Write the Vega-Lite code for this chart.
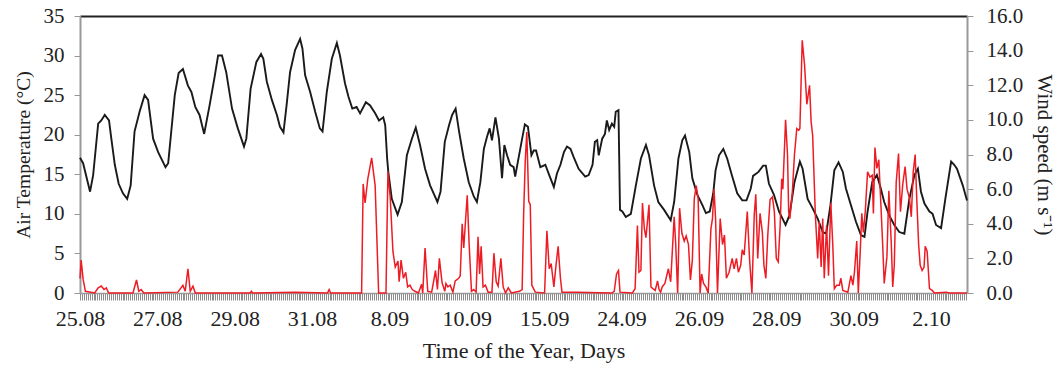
{
"$schema": "https://vega.github.io/schema/vega-lite/v6.json",
"width": 887, "height": 277,
"autosize": {"type": "none"},
"padding": {"left": 80, "top": 16, "right": 91, "bottom": 74},
"background": "white",
"config": {"view": {"stroke": null}, "font": "Liberation Serif",
  "axis": {"labelFont": "Liberation Serif", "titleFont": "Liberation Serif", "labelColor": "#222", "titleColor": "#222", "titleFontWeight": "normal", "grid": false}},
"datasets": {
"temp": [
{"d":0,"t":17.1},{"d":0.08,"t":16.4},{"d":0.26,"t":12.8},{"d":0.34,"t":14.9},{"d":0.47,"t":21.4},{"d":0.55,"t":21.8},{"d":0.64,"t":22.5},{"d":0.75,"t":21.8},{"d":0.81,"t":19.5},{"d":0.90,"t":16.2},{"d":1.00,"t":13.8},{"d":1.11,"t":12.6},{"d":1.22,"t":11.9},{"d":1.31,"t":13.6},{"d":1.41,"t":20.4},{"d":1.54,"t":22.9},{"d":1.67,"t":25.0},{"d":1.76,"t":24.4},{"d":1.89,"t":19.5},{"d":2.02,"t":17.8},{"d":2.21,"t":15.9},{"d":2.28,"t":16.4},{"d":2.45,"t":25.0},{"d":2.55,"t":27.8},{"d":2.66,"t":28.3},{"d":2.79,"t":26.2},{"d":2.88,"t":25.4},{"d":2.98,"t":23.5},{"d":3.09,"t":22.5},{"d":3.21,"t":20.1},{"d":3.35,"t":23.7},{"d":3.48,"t":27.3},{"d":3.57,"t":30.0},{"d":3.67,"t":30.0},{"d":3.78,"t":27.9},{"d":3.93,"t":23.3},{"d":4.08,"t":20.8},{"d":4.24,"t":18.5},{"d":4.30,"t":19.5},{"d":4.41,"t":25.8},{"d":4.56,"t":29.2},{"d":4.68,"t":30.2},{"d":4.74,"t":29.6},{"d":4.83,"t":26.7},{"d":4.96,"t":24.4},{"d":5.09,"t":22.5},{"d":5.17,"t":21.0},{"d":5.26,"t":20.3},{"d":5.34,"t":23.7},{"d":5.43,"t":27.9},{"d":5.56,"t":30.7},{"d":5.69,"t":32.1},{"d":5.75,"t":30.9},{"d":5.82,"t":27.5},{"d":5.95,"t":25.4},{"d":6.08,"t":22.9},{"d":6.20,"t":20.8},{"d":6.27,"t":20.4},{"d":6.38,"t":25.4},{"d":6.51,"t":29.6},{"d":6.64,"t":31.6},{"d":6.72,"t":30.0},{"d":6.85,"t":26.5},{"d":6.94,"t":24.8},{"d":7.04,"t":23.3},{"d":7.15,"t":23.5},{"d":7.24,"t":22.7},{"d":7.39,"t":24.1},{"d":7.50,"t":23.7},{"d":7.63,"t":22.7},{"d":7.73,"t":21.8},{"d":7.84,"t":22.2},{"d":7.89,"t":21.2},{"d":7.94,"t":17.0},{"d":7.97,"t":15.3},{"d":8.06,"t":11.9},{"d":8.21,"t":9.9},{"d":8.32,"t":11.5},{"d":8.45,"t":17.4},{"d":8.58,"t":19.5},{"d":8.68,"t":20.9},{"d":8.79,"t":18.7},{"d":8.92,"t":15.7},{"d":9.05,"t":13.6},{"d":9.24,"t":11.5},{"d":9.32,"t":12.8},{"d":9.43,"t":19.1},{"d":9.54,"t":21.2},{"d":9.62,"t":22.5},{"d":9.71,"t":23.3},{"d":9.80,"t":20.4},{"d":9.92,"t":17.0},{"d":10.05,"t":14.0},{"d":10.18,"t":12.2},{"d":10.26,"t":11.5},{"d":10.35,"t":14.0},{"d":10.44,"t":18.2},{"d":10.52,"t":19.7},{"d":10.59,"t":20.8},{"d":10.65,"t":19.3},{"d":10.74,"t":22.2},{"d":10.83,"t":19.5},{"d":10.91,"t":14.5},{"d":10.97,"t":18.7},{"d":11.04,"t":17.4},{"d":11.12,"t":16.2},{"d":11.21,"t":15.9},{"d":11.25,"t":14.7},{"d":11.32,"t":16.6},{"d":11.43,"t":19.5},{"d":11.50,"t":21.3},{"d":11.58,"t":21.0},{"d":11.67,"t":17.4},{"d":11.73,"t":18.0},{"d":11.79,"t":18.0},{"d":11.90,"t":15.9},{"d":12.03,"t":16.2},{"d":12.13,"t":14.9},{"d":12.25,"t":13.4},{"d":12.33,"t":15.1},{"d":12.42,"t":16.2},{"d":12.51,"t":17.8},{"d":12.59,"t":18.5},{"d":12.68,"t":18.2},{"d":12.76,"t":17.2},{"d":12.89,"t":15.7},{"d":13.06,"t":14.7},{"d":13.15,"t":14.9},{"d":13.25,"t":16.2},{"d":13.31,"t":19.1},{"d":13.37,"t":19.3},{"d":13.41,"t":17.4},{"d":13.50,"t":19.5},{"d":13.57,"t":20.1},{"d":13.62,"t":21.8},{"d":13.68,"t":20.6},{"d":13.75,"t":21.4},{"d":13.81,"t":21.0},{"d":13.85,"t":22.9},{"d":13.92,"t":23.1},{"d":13.96,"t":10.5},{"d":14.02,"t":10.3},{"d":14.11,"t":9.6},{"d":14.24,"t":10.0},{"d":14.37,"t":13.6},{"d":14.50,"t":17.0},{"d":14.63,"t":18.7},{"d":14.71,"t":17.4},{"d":14.84,"t":13.6},{"d":14.95,"t":11.5},{"d":15.10,"t":10.5},{"d":15.27,"t":9.2},{"d":15.36,"t":11.5},{"d":15.47,"t":17.0},{"d":15.57,"t":19.3},{"d":15.64,"t":19.9},{"d":15.75,"t":17.8},{"d":15.83,"t":14.5},{"d":15.96,"t":12.4},{"d":16.09,"t":11.1},{"d":16.18,"t":10.1},{"d":16.28,"t":10.3},{"d":16.37,"t":12.6},{"d":16.43,"t":15.5},{"d":16.52,"t":17.4},{"d":16.63,"t":18.2},{"d":16.73,"t":17.0},{"d":16.85,"t":14.9},{"d":16.99,"t":12.6},{"d":17.12,"t":11.7},{"d":17.23,"t":11.7},{"d":17.34,"t":13.2},{"d":17.40,"t":14.8},{"d":17.54,"t":15.3},{"d":17.66,"t":16.1},{"d":17.73,"t":16.1},{"d":17.81,"t":13.8},{"d":17.94,"t":12.4},{"d":18.07,"t":10.3},{"d":18.24,"t":8.6},{"d":18.34,"t":9.8},{"d":18.47,"t":14.0},{"d":18.61,"t":16.6},{"d":18.68,"t":15.7},{"d":18.81,"t":11.9},{"d":18.94,"t":10.7},{"d":19.07,"t":9.4},{"d":19.20,"t":7.7},{"d":19.29,"t":7.5},{"d":19.40,"t":11.1},{"d":19.50,"t":15.5},{"d":19.61,"t":16.5},{"d":19.72,"t":15.3},{"d":19.80,"t":13.2},{"d":19.93,"t":11.1},{"d":20.06,"t":9.0},{"d":20.19,"t":7.3},{"d":20.28,"t":7.1},{"d":20.36,"t":10.3},{"d":20.48,"t":14.0},{"d":20.60,"t":14.9},{"d":20.68,"t":13.6},{"d":20.79,"t":11.5},{"d":20.92,"t":9.8},{"d":21.05,"t":8.6},{"d":21.18,"t":7.7},{"d":21.31,"t":7.5},{"d":21.44,"t":11.9},{"d":21.57,"t":14.9},{"d":21.66,"t":15.7},{"d":21.74,"t":12.8},{"d":21.83,"t":11.3},{"d":21.96,"t":10.3},{"d":22.04,"t":10.0},{"d":22.13,"t":8.6},{"d":22.26,"t":8.2},{"d":22.37,"t":11.9},{"d":22.52,"t":16.6},{"d":22.60,"t":16.2},{"d":22.67,"t":15.7},{"d":22.82,"t":13.6},{"d":22.93,"t":11.7}
],
"wind": [
{"d":0,"w":0.84},{"d":0.03,"w":1.9},{"d":0.08,"w":0.8},{"d":0.14,"w":0.1},{"d":0.38,"w":0},{"d":0.47,"w":0.3},{"d":0.55,"w":0.4},{"d":0.62,"w":0.2},{"d":0.68,"w":0.3},{"d":0.74,"w":0},{"d":1.37,"w":0},{"d":1.46,"w":0.75},{"d":1.52,"w":0.1},{"d":1.58,"w":0.2},{"d":1.65,"w":0},{"d":2.53,"w":0.05},{"d":2.66,"w":0.45},{"d":2.72,"w":0.1},{"d":2.79,"w":1.4},{"d":2.85,"w":0.1},{"d":2.92,"w":0.4},{"d":2.98,"w":0},{"d":4.40,"w":0},{"d":4.43,"w":0.1},{"d":4.46,"w":0},{"d":5.56,"w":0.05},{"d":6.40,"w":0},{"d":6.44,"w":0.2},{"d":6.48,"w":0},{"d":7.28,"w":0},{"d":7.32,"w":6.3},{"d":7.37,"w":5.2},{"d":7.44,"w":6.6},{"d":7.54,"w":7.8},{"d":7.63,"w":6.2},{"d":7.72,"w":0},{"d":7.91,"w":0},{"d":7.96,"w":7.0},{"d":8.02,"w":5.5},{"d":8.09,"w":2.4},{"d":8.15,"w":1.5},{"d":8.22,"w":1.85},{"d":8.25,"w":0.65},{"d":8.30,"w":1.9},{"d":8.36,"w":0.85},{"d":8.42,"w":1.2},{"d":8.47,"w":0.35},{"d":8.53,"w":0.45},{"d":8.59,"w":0.2},{"d":8.66,"w":0.1},{"d":8.75,"w":0},{"d":8.83,"w":0.5},{"d":8.86,"w":0},{"d":8.92,"w":2.6},{"d":8.99,"w":0.1},{"d":9.09,"w":0.05},{"d":9.14,"w":0.65},{"d":9.19,"w":1.3},{"d":9.24,"w":0.2},{"d":9.29,"w":2.0},{"d":9.36,"w":0.6},{"d":9.43,"w":0.1},{"d":9.46,"w":0.55},{"d":9.51,"w":0.35},{"d":9.57,"w":0.45},{"d":9.64,"w":0.05},{"d":9.70,"w":0.7},{"d":9.79,"w":0.85},{"d":9.83,"w":1.0},{"d":9.88,"w":4.0},{"d":9.92,"w":2.6},{"d":10.01,"w":5.65},{"d":10.06,"w":2.8},{"d":10.12,"w":0.1},{"d":10.18,"w":0.2},{"d":10.24,"w":0.05},{"d":10.29,"w":3.25},{"d":10.33,"w":1.1},{"d":10.37,"w":2.7},{"d":10.42,"w":0.35},{"d":10.48,"w":0.45},{"d":10.55,"w":0.05},{"d":10.65,"w":0.05},{"d":10.70,"w":2.3},{"d":10.76,"w":0.65},{"d":10.81,"w":0.4},{"d":10.88,"w":2.0},{"d":10.94,"w":0.35},{"d":11.00,"w":0},{"d":11.07,"w":0.3},{"d":11.15,"w":0},{"d":11.36,"w":0.1},{"d":11.43,"w":0.2},{"d":11.47,"w":4.7},{"d":11.51,"w":7.6},{"d":11.55,"w":9.3},{"d":11.60,"w":5.3},{"d":11.64,"w":5.1},{"d":11.68,"w":0.45},{"d":11.77,"w":0.05},{"d":12.01,"w":0},{"d":12.07,"w":3.6},{"d":12.13,"w":1.4},{"d":12.18,"w":1.7},{"d":12.25,"w":0.35},{"d":12.31,"w":1.7},{"d":12.36,"w":2.7},{"d":12.42,"w":0.85},{"d":12.46,"w":0.05},{"d":12.85,"w":0.05},{"d":13.75,"w":0},{"d":13.81,"w":0.1},{"d":13.87,"w":1.1},{"d":13.92,"w":1.3},{"d":13.96,"w":0.05},{"d":14.28,"w":0},{"d":14.35,"w":0.25},{"d":14.41,"w":3.9},{"d":14.45,"w":1.2},{"d":14.50,"w":1.3},{"d":14.54,"w":5.2},{"d":14.59,"w":3.7},{"d":14.63,"w":3.2},{"d":14.71,"w":5.1},{"d":14.76,"w":0.35},{"d":14.81,"w":0.25},{"d":14.87,"w":0.15},{"d":14.93,"w":0.7},{"d":14.97,"w":0.2},{"d":15.01,"w":0.05},{"d":15.05,"w":0.35},{"d":15.12,"w":0.55},{"d":15.21,"w":1.4},{"d":15.27,"w":0.65},{"d":15.36,"w":4.4},{"d":15.40,"w":2.8},{"d":15.45,"w":0},{"d":15.50,"w":4.9},{"d":15.56,"w":3.45},{"d":15.62,"w":3.0},{"d":15.67,"w":3.3},{"d":15.73,"w":2.8},{"d":15.78,"w":0.75},{"d":15.83,"w":1.9},{"d":15.88,"w":5.45},{"d":15.93,"w":6.2},{"d":15.98,"w":5.45},{"d":16.03,"w":0},{"d":16.07,"w":1.1},{"d":16.12,"w":0.55},{"d":16.18,"w":0.35},{"d":16.24,"w":0},{"d":16.31,"w":3.7},{"d":16.35,"w":4.3},{"d":16.39,"w":6.0},{"d":16.43,"w":4.3},{"d":16.48,"w":0},{"d":16.55,"w":4.3},{"d":16.61,"w":2.8},{"d":16.66,"w":3.35},{"d":16.71,"w":0.85},{"d":16.78,"w":1.2},{"d":16.86,"w":2.0},{"d":16.91,"w":1.4},{"d":16.97,"w":2.0},{"d":17.02,"w":1.2},{"d":17.08,"w":1.6},{"d":17.12,"w":2.5},{"d":17.17,"w":2.2},{"d":17.21,"w":3.45},{"d":17.25,"w":4.7},{"d":17.31,"w":1.9},{"d":17.37,"w":0},{"d":17.43,"w":4.5},{"d":17.47,"w":5.7},{"d":17.52,"w":2.0},{"d":17.58,"w":4.6},{"d":17.64,"w":3.5},{"d":17.68,"w":1.6},{"d":17.73,"w":0.85},{"d":17.78,"w":3.35},{"d":17.84,"w":5.4},{"d":17.90,"w":5.55},{"d":17.95,"w":4.7},{"d":18.00,"w":2.0},{"d":18.05,"w":1.8},{"d":18.10,"w":3.9},{"d":18.14,"w":6.6},{"d":18.17,"w":6.0},{"d":18.24,"w":10.0},{"d":18.29,"w":8.0},{"d":18.32,"w":4.7},{"d":18.35,"w":4.3},{"d":18.41,"w":5.65},{"d":18.47,"w":8.0},{"d":18.53,"w":9.5},{"d":18.58,"w":9.4},{"d":18.61,"w":9.5},{"d":18.67,"w":14.6},{"d":18.73,"w":13.2},{"d":18.79,"w":10.9},{"d":18.86,"w":12.0},{"d":18.90,"w":9.9},{"d":18.94,"w":9.1},{"d":19.01,"w":4.5},{"d":19.07,"w":2.0},{"d":19.11,"w":4.1},{"d":19.16,"w":1.5},{"d":19.20,"w":4.3},{"d":19.24,"w":0.85},{"d":19.30,"w":3.9},{"d":19.35,"w":1.0},{"d":19.41,"w":5.2},{"d":19.46,"w":2.8},{"d":19.50,"w":0.25},{"d":19.56,"w":0.45},{"d":19.63,"w":0.45},{"d":19.67,"w":0.85},{"d":19.72,"w":0.15},{"d":19.85,"w":0.05},{"d":19.93,"w":1.0},{"d":19.98,"w":0.45},{"d":20.02,"w":1.2},{"d":20.08,"w":3.0},{"d":20.12,"w":0},{"d":20.17,"w":2.4},{"d":20.21,"w":4.6},{"d":20.25,"w":3.5},{"d":20.30,"w":4.7},{"d":20.36,"w":7.0},{"d":20.42,"w":6.7},{"d":20.48,"w":6.8},{"d":20.51,"w":4.6},{"d":20.55,"w":8.4},{"d":20.60,"w":7.2},{"d":20.65,"w":7.7},{"d":20.70,"w":5.3},{"d":20.75,"w":2.8},{"d":20.79,"w":0.55},{"d":20.86,"w":2.1},{"d":20.91,"w":5.9},{"d":20.97,"w":3.0},{"d":21.01,"w":0.35},{"d":21.05,"w":1.6},{"d":21.10,"w":6.4},{"d":21.16,"w":8.05},{"d":21.21,"w":4.7},{"d":21.27,"w":6.3},{"d":21.33,"w":7.3},{"d":21.38,"w":6.0},{"d":21.44,"w":5.5},{"d":21.49,"w":4.4},{"d":21.54,"w":7.0},{"d":21.59,"w":8.0},{"d":21.63,"w":5.5},{"d":21.68,"w":2.8},{"d":21.72,"w":1.6},{"d":21.77,"w":1.3},{"d":21.82,"w":1.5},{"d":21.85,"w":2.7},{"d":21.90,"w":2.4},{"d":21.96,"w":0.25},{"d":22.03,"w":0.15},{"d":22.09,"w":0},{"d":22.39,"w":0.05},{"d":22.48,"w":0},{"d":22.93,"w":0}
]
},
"layer": [
{"data": {"name": "temp"},
 "mark": {"type": "line", "color": "#1a1a1a", "strokeWidth": 1.9},
 "encoding": {
  "x": {"field": "d", "type": "quantitative", "scale": {"domain": [0, 22.93], "nice": false, "zero": false},
    "axis": {"orient": "bottom", "title": "Time of the Year, Days", "titleFontSize": 22, "titlePadding": 11,
      "tickCount": 460, "labelOverlap": false, "labelFlush": false, "labelBound": false,
      "labelExpr": "datum.value % 2 === 0 ? ['25.08','27.08','29.08','31.08','8.09','10.09','15.09','24.09','26.09','28.09','30.09','2.10'][datum.value / 2] : ''",
      "labelFontSize": 22, "labelPadding": 8, "tickSize": 7, "tickColor": "#8c8c8c", "tickWidth": 1,
      "domainColor": "#999", "domainWidth": 1.5}},
  "y": {"field": "t", "type": "quantitative", "scale": {"domain": [0, 35], "nice": false},
    "axis": {"orient": "left", "values": [0,5,10,15,20,25,30,35], "title": "Air Temperature (°C)", "titleFontSize": 19.5,
      "titleY": 138.5, "titleAlign": "center", "titleAngle": -90,
      "labelFontSize": 21, "tickSize": 6, "tickColor": "#999", "domainColor": "#999", "domainWidth": 2,
      "labelPadding": 10, "titlePadding": 10}}
 }},
{"data": {"name": "wind"},
 "mark": {"type": "line", "color": "#ed1c24", "strokeWidth": 1.5},
 "encoding": {
  "x": {"field": "d", "type": "quantitative",
    "axis": {"orient": "top", "title": null, "labels": false, "ticks": false, "domainColor": "#222", "domainWidth": 2}},
  "y": {"field": "w", "type": "quantitative", "scale": {"domain": [0, 16], "nice": false},
    "axis": {"orient": "right", "values": [0,2,4,6,8,10,12,14,16], "format": ".1f", "title": "Wind speed (m s⁻¹)", "titleFontSize": 21,
      "labelFontSize": 21, "tickSize": 6, "tickColor": "#999", "domainColor": "#999", "domainWidth": 2,
      "labelPadding": 13, "titlePadding": 11}}
 }}
],
"resolve": {"scale": {"y": "independent"}, "axis": {"x": "independent", "y": "independent"}}
}
